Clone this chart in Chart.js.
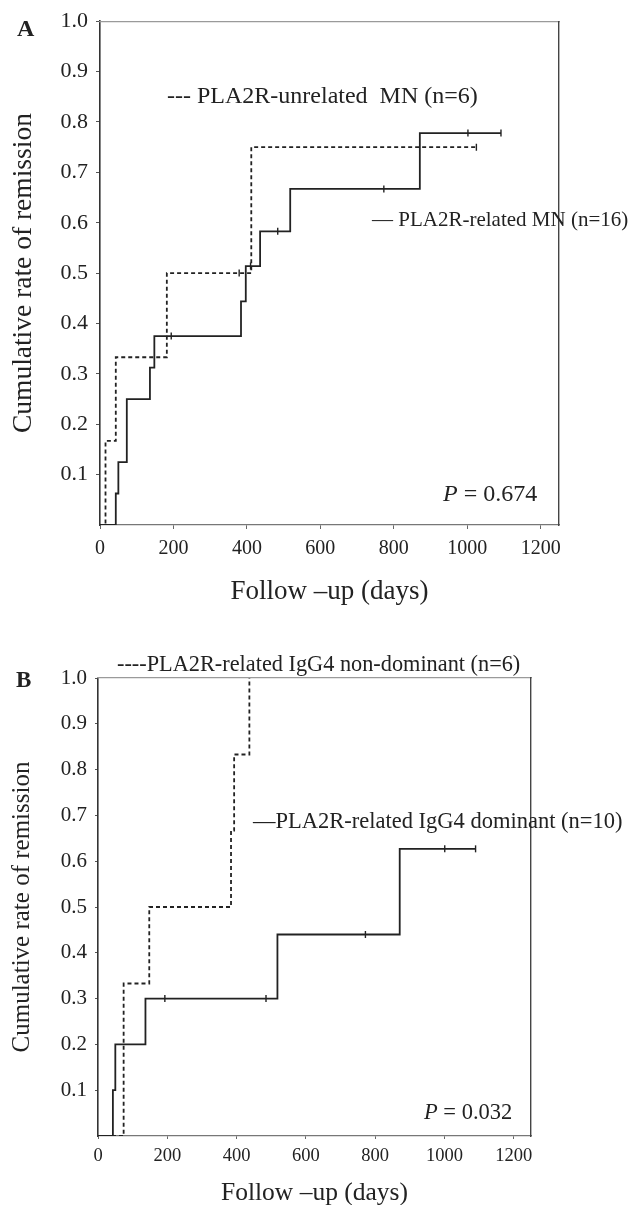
<!DOCTYPE html>
<html>
<head>
<meta charset="utf-8">
<script src="https://cdn.jsdelivr.net/npm/chart.js@4.4.0/dist/chart.umd.min.js"></script>
<style>
  html, body { margin: 0; padding: 0; background: #fff; overflow: hidden; }
  canvas { position: absolute; left: 0; }
  #cA { top: 0; }
  #cB { top: 610px; }
</style>
</head>
<body>
<canvas id="cA" width="633" height="610"></canvas>
<canvas id="cB" width="633" height="600"></canvas>
<script>
// ---------------- DATA ----------------
const xTicksDays = [0, 200, 400, 600, 800, 1000, 1200];
const yTickRates = [0.1, 0.2, 0.3, 0.4, 0.5, 0.6, 0.7, 0.8, 0.9, 1.0];

// Panel A
const A_unrel_days = [0, 15, 43, 182, 412, 1025];
const A_unrel_rate = [0, 0.167, 0.333, 0.5, 0.75, 0.75];
const A_unrel_censor_days = [379, 1025];
const A_unrel_censor_rate = [0.5, 0.75];

const A_rel_days = [0, 43, 50, 73, 136, 148, 384, 397, 436, 518, 871, 1092];
const A_rel_rate = [0, 0.0625, 0.125, 0.25, 0.3125, 0.375, 0.444, 0.514, 0.583, 0.667, 0.778, 0.778];
const A_rel_censor_days = [194, 410, 484, 773, 1002, 1092];
const A_rel_censor_rate = [0.375, 0.514, 0.583, 0.667, 0.778, 0.778];

// Panel B
const B_nondom_days = [0, 74, 74, 148, 384, 393, 437];
const B_nondom_rate = [0, 0.167, 0.333, 0.5, 0.667, 0.833, 1.0];

const B_dom_days = [0, 43, 50, 137, 518, 871, 1090];
const B_dom_rate = [0, 0.1, 0.2, 0.3, 0.44, 0.627, 0.627];
const B_dom_censor_days = [193, 485, 772, 1001, 1090];
const B_dom_censor_rate = [0.3, 0.3, 0.44, 0.627, 0.627];

const labelsA = {
  panel: 'A',
  series1: '--- PLA2R-unrelated  MN (n=6)',
  series2: '\u2014 PLA2R-related MN (n=16)',
  pValue: '0.674'
};
const labelsB = {
  panel: 'B',
  series1: '----PLA2R-related IgG4 non-dominant (n=6)',
  series2: '\u2014PLA2R-related IgG4 dominant (n=10)',
  pValue: '0.032'
};
const xTitle = 'Follow \u2013up (days)';
const yTitle = 'Cumulative rate of remission';
// --------------------------------------------------------------

const SERIF = '"Liberation Serif", "Times New Roman", serif';
const INK = '#222222';

function pts(xs, ys) { return xs.map((x, i) => ({ x: x, y: ys[i] })); }

function stepSet(xs, ys, dashed) {
  return {
    type: 'line', data: pts(xs, ys), stepped: 'before',
    borderColor: INK, borderWidth: 1.8, borderDash: dashed ? [4, 3] : [],
    pointRadius: 0, fill: false, tension: 0
  };
}
function censorSet(xs, ys) {
  return {
    type: 'scatter', data: pts(xs, ys), showLine: false,
    pointStyle: 'line', rotation: 90, pointRadius: 3.5,
    borderColor: INK, borderWidth: 1.4, backgroundColor: INK
  };
}

function makeOptions(cfg) {
  return {
    responsive: false, animation: false, devicePixelRatio: 1,
    layout: { padding: cfg.padding },
    plugins: { legend: { display: false }, tooltip: { enabled: false } },
    scales: {
      x: {
        type: 'linear', position: 'bottom', min: 0, max: 1250,
        afterBuildTicks: (s) => { s.ticks = xTicksDays.map(v => ({ value: v })); },
        afterFit: (s) => { s.height = cfg.xAxisH; },
        ticks: { font: { family: SERIF, size: cfg.xTickSize }, color: INK, padding: cfg.xTickPad, maxRotation: 0, autoSkip: false, callback: (v) => String(v) },
        grid: { drawOnChartArea: false, drawTicks: true, tickLength: cfg.tickLen, color: '#666', lineWidth: 1 },
        border: { display: true, color: '#777', width: 1.3 },
        title: { display: true, text: xTitle, color: INK, font: { family: SERIF, size: cfg.xTitleSize }, padding: { top: 0, bottom: cfg.xTitlePadB } }
      },
      y: {
        type: 'linear', position: 'left', min: 0, max: 1,
        afterBuildTicks: (s) => { s.ticks = yTickRates.map(v => ({ value: v })); },
        afterFit: (s) => { s.width = cfg.yAxisW; },
        ticks: { font: { family: SERIF, size: cfg.yTickSize }, color: INK, padding: cfg.yTickPad, callback: (v) => Number(v).toFixed(1) },
        grid: { drawOnChartArea: false, drawTicks: true, tickLength: cfg.tickLen, color: '#555', lineWidth: 1 },
        border: { display: true, color: '#333', width: 1.6 },
        title: { display: true, text: yTitle, color: INK, font: { family: SERIF, size: cfg.yTitleSize }, padding: { top: cfg.yTitlePadT, bottom: 0 } }
      },
      x2: {
        type: 'linear', position: 'top', min: 0, max: 1,
        afterFit: (s) => { s.height = 0; },
        ticks: { display: false }, grid: { display: false, drawTicks: false },
        border: { display: true, color: '#9a9a9a', width: 1.2 }
      },
      y2: {
        type: 'linear', position: 'right', min: 0, max: 1,
        afterFit: (s) => { s.width = 0; },
        ticks: { display: false }, grid: { display: false, drawTicks: false },
        border: { display: true, color: '#444', width: 1.4 }
      }
    }
  };
}

function annotPlugin(items) {
  return {
    id: 'annot',
    afterDraw(chart) {
      const ctx = chart.ctx;
      ctx.save();
      ctx.fillStyle = INK;
      ctx.textBaseline = 'middle';
      ctx.textAlign = 'left';
      items.forEach(it => {
        let x = it.x;
        if (it.italicPrefix) {
          ctx.font = 'italic ' + it.size + 'px ' + SERIF;
          ctx.fillText(it.italicPrefix, x, it.y);
          x += ctx.measureText(it.italicPrefix).width;
        }
        ctx.font = (it.bold ? 'bold ' : '') + it.size + 'px ' + SERIF;
        ctx.fillText(it.text, x, it.y);
      });
      ctx.restore();
    }
  };
}

// Panel A
new Chart(document.getElementById('cA'), {
  data: { datasets: [
    stepSet(A_unrel_days, A_unrel_rate, true),
    stepSet(A_rel_days, A_rel_rate, false),
    censorSet(A_unrel_censor_days, A_unrel_censor_rate),
    censorSet(A_rel_censor_days, A_rel_censor_rate)
  ] },
  options: makeOptions({
    padding: { left: 0, top: 19, right: 74, bottom: 0 },
    xAxisH: 85, yAxisW: 100, xTickSize: 20, yTickSize: 22, tickLen: 4, xTickPad: 8, yTickPad: 8,
    xTitleSize: 27, xTitlePadB: 2, yTitleSize: 27.5, yTitlePadT: 7
  }),
  plugins: [annotPlugin([
    { text: labelsA.panel, x: 17, y: 30, size: 24, bold: true },
    { text: labelsA.series1, x: 167, y: 97, size: 24 },
    { text: labelsA.series2, x: 372, y: 220, size: 21 },
    { italicPrefix: 'P', text: ' = ' + labelsA.pValue, x: 443, y: 495, size: 24 }
  ])]
});

// Panel B
new Chart(document.getElementById('cB'), {
  data: { datasets: [
    stepSet(B_nondom_days, B_nondom_rate, true),
    stepSet(B_dom_days, B_dom_rate, false),
    censorSet(B_dom_censor_days, B_dom_censor_rate)
  ] },
  options: makeOptions({
    padding: { left: 0, top: 68, right: 102, bottom: 0 },
    xAxisH: 74, yAxisW: 98, xTickSize: 18.5, yTickSize: 21, tickLen: 3, xTickPad: 6, yTickPad: 8,
    xTitleSize: 25.5, xTitlePadB: 1, yTitleSize: 25, yTitlePadT: 7
  }),
  plugins: [annotPlugin([
    { text: labelsB.panel, x: 16, y: 71, size: 23, bold: true },
    { text: labelsB.series1, x: 117, y: 55, size: 22.3 },
    { text: labelsB.series2, x: 253, y: 212, size: 22.5 },
    { italicPrefix: 'P', text: ' = ' + labelsB.pValue, x: 424, y: 503, size: 22.5 }
  ])]
});
</script>
</body>
</html>
